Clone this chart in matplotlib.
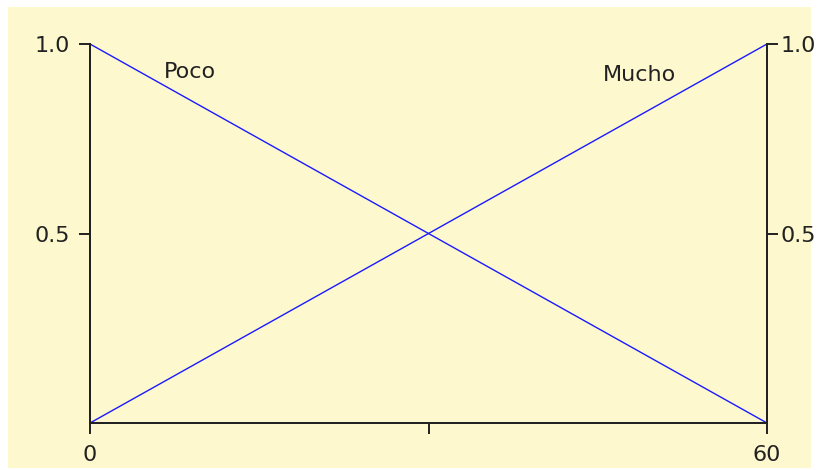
import matplotlib
matplotlib.use("Agg")
import matplotlib.pyplot as plt
from matplotlib.patches import Rectangle

# membership functions
x_vals = [0, 60]
poco = [1.0, 0.0]
mucho = [0.0, 1.0]
x_ticks = [0, 30, 60]
x_labels = ["0", "", "60"]
y_ticks = [0.5, 1.0]
y_labels = ["0.5", "1.0"]
names = ["Poco", "Mucho"]
name_pos = [(8.9, 0.926), (48.7, 0.918)]

W, H = 819, 470
ink = "#222222"
fig = plt.figure(figsize=(W / 100, H / 100), dpi=100, facecolor="white")
# pale yellow panel behind everything
fig.patches.append(Rectangle((8 / W, 2 / H), 803 / W, 461 / H, transform=fig.transFigure,
                             facecolor="#fef8ce", edgecolor="none", zorder=-10))

ax = fig.add_axes([90 / W, 47 / H, 677 / W, 379 / H])
ax.patch.set_visible(False)

ax.plot(x_vals, poco, color="#1a1aff", lw=1.0, clip_on=False)
ax.plot(x_vals, mucho, color="#1a1aff", lw=1.0, clip_on=False)

for name, (tx, ty) in zip(names, name_pos):
    ax.text(tx, ty, name, ha="center", va="center", fontsize=16, color=ink)

ax.set_xlim(0, 60)
ax.set_ylim(0, 1)
ax.set_xticks(x_ticks)
ax.set_xticklabels(x_labels)
ax.set_yticks(y_ticks)
ax.set_yticklabels(y_labels)

# right hand axis, labels close to the ticks
ax2 = ax.twinx()
ax2.set_ylim(0, 1)
ax2.set_yticks(y_ticks)
ax2.set_yticklabels(y_labels)

for a in (ax, ax2):
    a.spines["top"].set_visible(False)
    for s in ["left", "right", "bottom"]:
        a.spines[s].set_linewidth(1.4)
        a.spines[s].set_color(ink)

ax.tick_params(axis="x", direction="out", length=8, width=1.4, pad=7.5, labelsize=16,
               color=ink, labelcolor=ink)
ax.tick_params(axis="y", direction="out", length=8, width=1.4, pad=6.5, labelsize=16,
               color=ink, labelcolor=ink)
ax2.tick_params(axis="y", direction="out", length=8, width=1.4, pad=1.5, labelsize=16,
                color=ink, labelcolor=ink)

fig.savefig("out.png", dpi=100, facecolor="white")
